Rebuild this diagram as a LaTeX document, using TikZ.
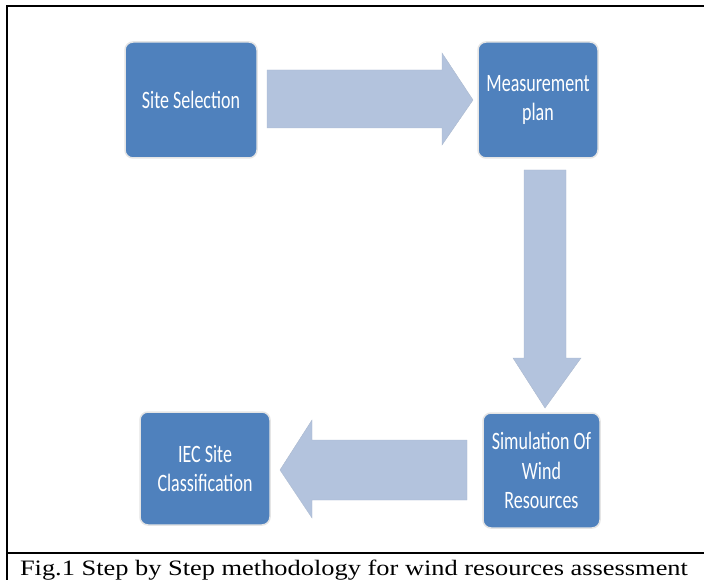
\documentclass[tikz,border=0pt]{standalone}
\usepackage{fontspec}
\setmainfont{Liberation Serif}
\newfontfamily\boxfont[FakeStretch=0.72]{Carlito}
\newfontfamily\capfont[FakeStretch=1.2]{Liberation Serif}
\usepackage{tikz}
\usetikzlibrary{positioning}

\definecolor{boxblue}{HTML}{4F81BD}
\definecolor{arrowblue}{HTML}{B3C3DD}

\begin{document}
\begin{tikzpicture}[x=1pt, y=-1pt,
    stepbox/.style = {draw=gray!20, line width=1.5pt, fill=boxblue, rounded corners=8pt,
        text=white, align=center, font=\boxfont\fontsize{25}{29.5}\selectfont, inner sep=0pt},
    flow/.style = {fill=arrowblue, draw=arrowblue!85!gray, line width=0.4pt},
    frame/.style = {line width=2.4pt}]
            \useasboundingbox (0,0) rectangle (704,580);
            % Nodes
            \node[stepbox, minimum width=132pt, minimum height=116pt] (site) at (191,100) {Site Selection};
            \node[stepbox, minimum width=120pt, minimum height=116pt] (plan) at (538,100) {Measurement\\plan};
            \node[stepbox, minimum width=117pt, minimum height=115pt] (sim) at (541.5,470.5) {Simulation Of\\Wind\\Resources};
            \node[stepbox, minimum width=130pt, minimum height=113pt] (iec) at (205,468.5) {IEC Site\\Classification};
            % Arrows
            \draw[flow] (267,70) -- (442,70) -- (442,53) -- (473,100) -- (442,145) -- (442,128) -- (267,128) -- cycle;
            \draw[flow] (524,170) -- (566,170) -- (566,358) -- (581,358) -- (545,408) -- (513,358) -- (524,358) -- cycle;
            \draw[flow] (467,440) -- (312,440) -- (312,420) -- (280,470) -- (312,518) -- (312,500) -- (467,500) -- cycle;
            % Frame and caption
            \coordinate (tl) at (7,6);
            \coordinate (tr) at (704,6);
            \coordinate (bl) at (7,580);
            \coordinate (ml) at (7,553);
            \coordinate (mr) at (704,553);
            \draw[frame] (tr) -- (tl) -- (bl);
            \draw[frame] (ml) -- (mr);
            \node[font=\capfont\fontsize{22}{26}\selectfont, anchor=base, inner sep=0pt] (caption) at (354,575) {Fig.1 Step by Step methodology for wind resources assessment};
            \end{tikzpicture}
\end{document}
